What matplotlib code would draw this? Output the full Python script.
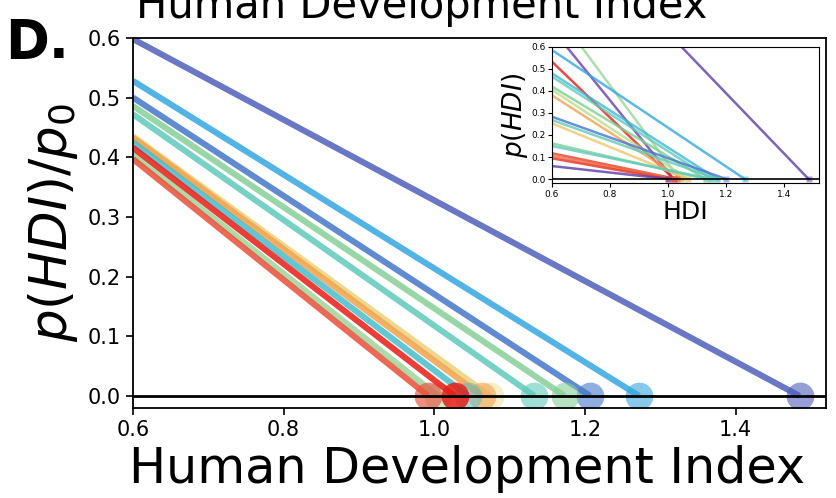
import numpy as np
import matplotlib.pyplot as plt

# main panel: each line runs from (0.6, start) down to (end, 0)
main_start = [0.598, 0.528, 0.500, 0.486, 0.472, 0.435, 0.433, 0.425, 0.405, 0.397, 0.416]
main_end = [1.485, 1.272, 1.207, 1.173, 1.133, 1.074, 1.063, 1.045, 1.005, 0.992, 1.027]
main_colors = ['#4f5fba', '#35a6e0', '#4577c9', '#86cf98', '#5fcabb',
               '#ecd27a', '#f2a34f', '#47bccc', '#a0d49a', '#e8503a', '#e81c14']
main_marker_alpha = [0.6, 0.6, 0.6, 0.6, 0.6, 0.4, 0.6, 0.5, 0.5, 0.65, 0.85]

# inset: (x0, y0) start point to (end, 0)
inset_x0 = [0.651, 0.702, 1.047, 0.6, 0.6, 0.6, 0.6, 0.6, 0.6, 0.6, 0.6, 0.6, 0.6, 0.6, 0.6, 0.6, 0.6, 0.6, 0.6]
inset_y0 = [0.6, 0.6, 0.6, 0.586, 0.533, 0.48, 0.465, 0.42, 0.405, 0.38, 0.283, 0.268,
            0.253, 0.162, 0.15, 0.117, 0.105, 0.094, 0.059]
inset_end = [1.02, 1.04, 1.485, 1.265, 1.02, 1.17, 1.15, 1.13, 1.07, 1.05, 1.2, 1.17,
             1.07, 1.13, 1.15, 1.03, 1.02, 1.0, 1.0]
inset_colors = ['#6a3fa8', '#9ad69a', '#5b3fa8', '#35a6e0', '#e81c14', '#40b8d8', '#5fcabb',
                '#7fcf8f', '#b8dc8a', '#f2a34f', '#4577c9', '#5fcabb', '#ecc870', '#7fcf9a',
                '#5fcabb', '#e8402a', '#ee6a40', '#e8301e', '#5b3fa8']

fig = plt.figure(figsize=(8.36, 4.98), dpi=100)
ax = fig.add_axes([0.159, 0.181, 0.829, 0.743])

for y0, xe, c, ma in zip(main_start, main_end, main_colors, main_marker_alpha):
    ax.plot([0.6, xe], [y0, 0], color=c, lw=4.4, alpha=0.85, solid_capstyle='butt')
    ax.plot(xe, 0, 'o', ms=20, color=c, alpha=ma, mec='none')
ax.axhline(0, color='k', lw=2, zorder=5)

ax.set_xlim(0.6, 1.52)
ax.set_ylim(-0.02, 0.6)
ax.set_xticks([0.6, 0.8, 1.0, 1.2, 1.4])
ax.set_yticks([0.0, 0.1, 0.2, 0.3, 0.4, 0.5, 0.6])
ax.tick_params(labelsize=15, width=1.2, length=5)
for s in ax.spines.values():
    s.set_linewidth(1.3)
ax.set_xlabel('Human Development Index', fontsize=35.5)
ax.xaxis.set_label_coords(0.482, -0.1, transform=ax.transAxes)
ax.xaxis.label.set_va('top')
ax.set_ylabel(r'$p(HDI)/p_0$', fontsize=37, labelpad=6)

fig.text(136 / 836, 1 - 18 / 498, 'Human Development Index', fontsize=30, ha='left', va='baseline')
fig.text(5 / 836, 1 - 58 / 498, 'D.', fontsize=38, fontweight='bold', ha='left', va='baseline')

# inset
ax2 = fig.add_axes([0.6603, 0.6317, 0.319, 0.274])
for x0, y0, xe, c in zip(inset_x0, inset_y0, inset_end, inset_colors):
    ax2.plot([x0, xe], [y0, 0], color=c, lw=1.8, alpha=0.8)
    ax2.plot(xe, 0, 's', ms=5, color=c, alpha=0.5, mec='none')
ax2.axhline(0, color='k', lw=1.2, zorder=5)
ax2.set_xlim(0.6, 1.52)
ax2.set_ylim(-0.02, 0.6)
ax2.set_xticks([0.6, 0.8, 1.0, 1.2, 1.4])
ax2.set_yticks([0.0, 0.1, 0.2, 0.3, 0.4, 0.5, 0.6])
ax2.tick_params(labelsize=6.5, length=3, pad=1.5)
ax2.set_xlabel('HDI', fontsize=18, labelpad=1)
ax2.set_ylabel(r'$p(HDI)$', fontsize=19, labelpad=1)

fig.savefig('out.png', dpi=100)
